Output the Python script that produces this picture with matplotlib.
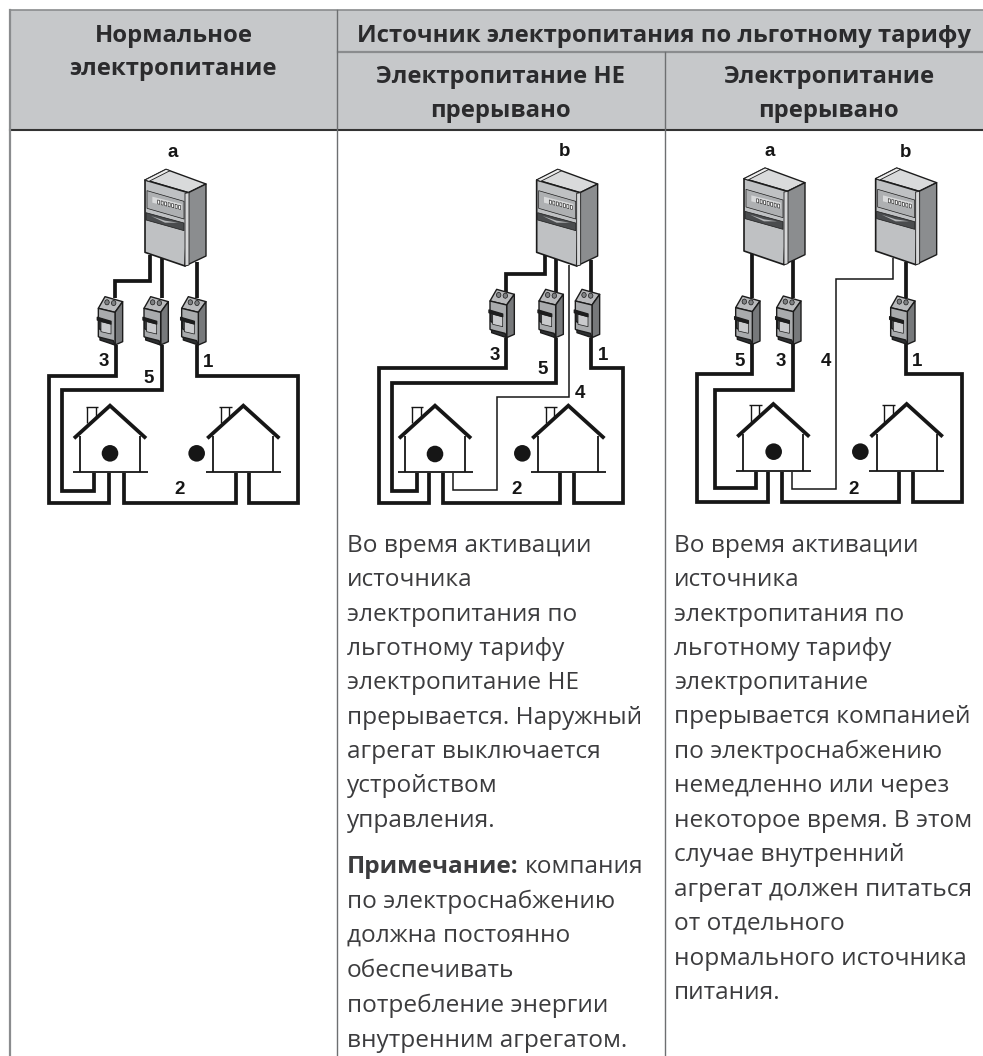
import math
import matplotlib
matplotlib.use("Agg")
import matplotlib.pyplot as plt
from matplotlib.patches import Polygon, Circle, Rectangle

W, H = 983, 1056
FONT = "Open Sans"

header_fill = "#c6c8ca"
text_color = "#3c3c3e"

header_items = [
    ("Нормальное", 174, 42), ("электропитание", 173, 75),
    ("Источник электропитания по льготному тарифу", 664, 42),
    ("Электропитание НЕ", 500, 83), ("прерывано", 500, 117),
    ("Электропитание", 829, 83), ("прерывано", 829, 117),
]
col2_lines = [
    ("Во время активации", 552), ("источника", 586), ("электропитания по", 621),
    ("льготному тарифу", 655), ("электропитание НЕ", 689), ("прерывается. Наружный", 724),
    ("агрегат выключается", 758), ("устройством", 792), ("управления.", 827),
    ("по электроснабжению", 908), ("должна постоянно", 942), ("обеспечивать", 977),
    ("потребление энергии", 1012), ("внутренним агрегатом.", 1047),
]
col3_lines = [
    ("Во время активации", 552), ("источника", 586), ("электропитания по", 621),
    ("льготному тарифу", 655), ("электропитание", 689), ("прерывается компанией", 723),
    ("по электроснабжению", 758), ("немедленно или через", 792), ("некоторое время. В этом", 827),
    ("случае внутренний", 861), ("агрегат должен питаться", 896), ("от отдельного", 930),
    ("нормального источника", 965), ("питания.", 999),
]

fig = plt.figure(figsize=(W / 100, H / 100), dpi=100)
ax = fig.add_axes([0, 0, 1, 1])
ax.set_xlim(0, W)
ax.set_ylim(H, 0)
ax.axis("off")

# table
ax.add_patch(Rectangle((10, 10), W - 10, 120, fc=header_fill, ec="none", zorder=0))
gray = "#8a8c8e"
vgray = "#6d6f71"
ax.plot([10, W], [10, 10], color=gray, lw=1.2)
ax.plot([338, W], [52, 52], color=gray, lw=1.6)
ax.plot([10, W], [130, 130], color="#333333", lw=1.5)
ax.plot([10, 10], [10, H], color=gray, lw=1.6)
ax.plot([337, 337], [10, H], color=vgray, lw=1.0)
ax.plot([665, 665], [52, H], color=vgray, lw=1.0)

for s, x, y in header_items:
    ax.text(x, y, s, ha="center", va="baseline", family=FONT, weight="bold",
            fontsize=17.2, color="#2b2b2d")


class Diagram:
    def __init__(self, ox, oy):
        self.ox, self.oy = ox, oy

    def p(self, x, y):
        return (self.ox + x / 3, self.oy + y / 3)

    def line(self, pts, lw=2.7, z=3, color="#161616"):
        q = [self.p(*a) for a in pts]
        ax.plot([a[0] for a in q], [a[1] for a in q], color=color, lw=lw, zorder=z,
                solid_joinstyle="miter", solid_capstyle="butt")

    def poly(self, pts, fc, ec="#1c1c1c", lw=1.0, z=4):
        ax.add_patch(Polygon([self.p(*a) for a in pts], closed=True, fc=fc, ec=ec,
                             lw=lw, zorder=z, joinstyle="round"))

    def meter(self, x, y):
        # x, y: upper-left corner of the front face
        P = lambda pts: [(x + a, y + b) for a, b in pts]
        self.poly(P([(0, 0), (63, -32), (183, 12), (130, 38)]), "#d9dadb")
        self.poly(P([(130, 38), (183, 12), (183, 228), (120, 258)]), "#8b8d8f")
        self.poly(P([(0, 0), (130, 38), (120, 258), (0, 217)]), "#bfc1c3", lw=1.2)
        self.poly(P([(120, 40), (132, 38), (132, 255), (120, 258)]), "#d6d7d8", lw=0.6, z=5)
        self.poly(P([(0, 0), (63, -32), (75, -28), (12, 4)]), "#eeeeee", lw=0.6, z=5)
        self.poly(P([(6, 32), (117, 64), (117, 117), (6, 85)]), "#aeb0b2", lw=0.5, z=5)
        self.poly(P([(22, 50), (110, 72), (110, 90), (22, 68)]), "#d8d9da", ec="none", z=6)
        for k in range(7):
            self.poly(P([(38 + 10.5 * k, 60 + 2.6 * k), (44 + 10.5 * k, 61.5 + 2.6 * k),
                         (44 + 10.5 * k, 73 + 2.6 * k), (38 + 10.5 * k, 71.5 + 2.6 * k)]),
                      "#ffffff", ec="#333333", lw=0.5, z=7)
        self.poly(P([(3, 98), (117, 129), (117, 152), (3, 120)]), "#4a4c4e", lw=0.5, z=6)
        self.poly(P([(18, 108), (60, 122), (100, 128), (60, 128)]), "#b5b7b9", ec="none", z=7)

    def breaker(self, x, y):
        # x, y: left edge and top of the breaker
        P = lambda pts: [(x + a, y + b) for a, b in pts]
        self.poly(P([(0, 35), (20, 0), (73, 15), (50, 47)]), "#b9babc")
        self.poly(P([(50, 47), (73, 15), (73, 135), (50, 145)]), "#77797b")
        self.poly(P([(0, 35), (50, 47), (50, 145), (0, 120)]), "#a9abad")
        for dx in (26, 46):
            self.poly([(x + dx + 7 * math.cos(t / 4 * math.pi),
                        y + 14 + dx / 9 + 8 * math.sin(t / 4 * math.pi)) for t in range(8)],
                      "#7f8183", lw=0.5, z=5)
        self.poly(P([(2, 65), (12, 68), (12, 102), (2, 96)]), "#3e4042", z=5)
        self.poly(P([(-3, 62), (38, 74), (38, 82), (-3, 70)]), "#1e1e1f", z=6)
        self.poly(P([(8, 75), (38, 82), (38, 112), (8, 105)]), "#c9cacc", lw=0.5, z=5)
        self.poly(P([(5, 122), (45, 132), (50, 145), (5, 130)]), "#2e3032", z=6)

    def house(self, ax_, ay_):
        # ax_, ay_: roof apex
        P = lambda pts: [(ax_ + a, ay_ + b) for a, b in pts]
        self.line(P([(-73, 5), (-35, 5)]), lw=1.0, z=2)
        self.line(P([(-68, 5), (-68, 55)]), lw=1.0, z=2)
        self.line(P([(-42, 5), (-42, 40)]), lw=1.0, z=2)
        self.line(P([(-108, 100), (0, 2), (108, 100)]), lw=2.7, z=5)
        self.line(P([(-90, 92), (-90, 202)]), lw=1.3)
        self.line(P([(90, 92), (90, 202)]), lw=1.3)
        self.line(P([(-112, 202), (113, 202)]), lw=1.3)

    def dot(self, x, y):
        c = self.p(x, y)
        ax.add_patch(Circle(c, 8.3, fc="#161616", ec="none", zorder=5))

    def label(self, s, x, y):
        c = self.p(x, y)
        ax.text(c[0], c[1] + 1, s, ha="center", va="center", family="Liberation Sans",
                weight="bold", fontsize=13.5, color="#161616", zorder=8)


# --- diagram 1
d = Diagram(0, 120)
d.line([(450, 405), (450, 483), (345, 483), (345, 535)])
d.line([(348, 675), (348, 767), (147, 767), (147, 1150), (327, 1150), (327, 1060)])
d.line([(485, 415), (485, 535)])
d.line([(485, 675), (485, 810), (187, 810), (187, 1113), (283, 1113), (283, 1060)])
d.line([(590, 425), (590, 535)])
d.line([(590, 675), (590, 767), (893, 767), (893, 1150), (747, 1150), (747, 1060)])
d.line([(373, 1060), (373, 1150), (707, 1150), (707, 1060)])
d.meter(435, 180)
for x, y in [(295, 530), (432, 530), (545, 530)]:
    d.breaker(x, y)
d.house(330, 855)
d.house(730, 855)
d.dot(330, 1000)
d.dot(590, 1000)
for s, x, y in [("a", 518, 95), ("3", 310, 722), ("5", 447, 772), ("1", 625, 725), ("2", 540, 1105)]:
    d.label(s, x, y)

# --- diagram 2
d = Diagram(340, 120)
d.line([(615, 405), (615, 462), (497, 462), (497, 515)])
d.line([(497, 655), (497, 745), (117, 745), (117, 1150), (267, 1150), (267, 1060)])
d.line([(648, 415), (648, 515)])
d.line([(648, 655), (648, 788), (155, 788), (155, 1113), (230, 1113), (230, 1060)])
d.line([(688, 435), (688, 832), (470, 832), (470, 1110), (340, 1110), (340, 1060)], lw=1.1)
d.line([(752, 420), (752, 515)])
d.line([(752, 655), (752, 745), (850, 745), (850, 1150), (703, 1150), (703, 1060)])
d.line([(310, 1060), (310, 1150), (660, 1150), (660, 1060)])
d.meter(590, 180)
for x, y in [(450, 508), (597, 508), (706, 508)]:
    d.breaker(x, y)
d.house(285, 855)
d.house(685, 855)
d.dot(285, 1002)
d.dot(547, 1000)
for s, x, y in [("b", 675, 90), ("3", 463, 703), ("5", 608, 745), ("1", 788, 703), ("4", 720, 818), ("2", 530, 1105)]:
    d.label(s, x, y)

# --- diagram 3
d = Diagram(665, 120)
d.line([(260, 400), (260, 535)])
d.line([(262, 670), (262, 763), (95, 763), (95, 1145), (310, 1145), (310, 1055)])
d.line([(383, 420), (383, 535)])
d.line([(383, 670), (383, 810), (150, 810), (150, 1105), (273, 1105), (273, 1055)])
d.line([(683, 415), (683, 478), (512, 478), (512, 1107), (380, 1107), (380, 1055)], lw=1.1)
d.line([(723, 425), (723, 535)])
d.line([(723, 670), (723, 763), (890, 763), (890, 1145), (745, 1145), (745, 1055)])
d.line([(350, 1055), (350, 1145), (703, 1145), (703, 1055)])
d.meter(237, 176)
d.meter(632, 176)
for x, y in [(212, 528), (335, 528), (677, 528)]:
    d.breaker(x, y)
d.house(325, 850)
d.house(725, 850)
d.dot(326, 995)
d.dot(586, 995)
for s, x, y in [("a", 315, 92), ("b", 722, 95), ("5", 225, 722), ("3", 347, 722), ("4", 484, 722), ("1", 757, 722), ("2", 567, 1105)]:
    d.label(s, x, y)

# --- body text
BODY = 17.6
for s, y in col2_lines:
    ax.text(347, y, s, ha="left", va="baseline", family=FONT, fontsize=BODY, color=text_color)
for s, y in col3_lines:
    ax.text(674, y, s, ha="left", va="baseline", family=FONT, fontsize=BODY, color=text_color)

note = ax.text(347, 873, "Примечание:", ha="left", va="baseline", family=FONT, weight="bold",
               fontsize=BODY, color=text_color)
fig.canvas.draw()
bb = note.get_window_extent(fig.canvas.get_renderer())
ax.text(bb.x1 + 6, 873, "компания", ha="left", va="baseline", family=FONT, fontsize=BODY, color=text_color)

fig.savefig("out.png", dpi=100)
